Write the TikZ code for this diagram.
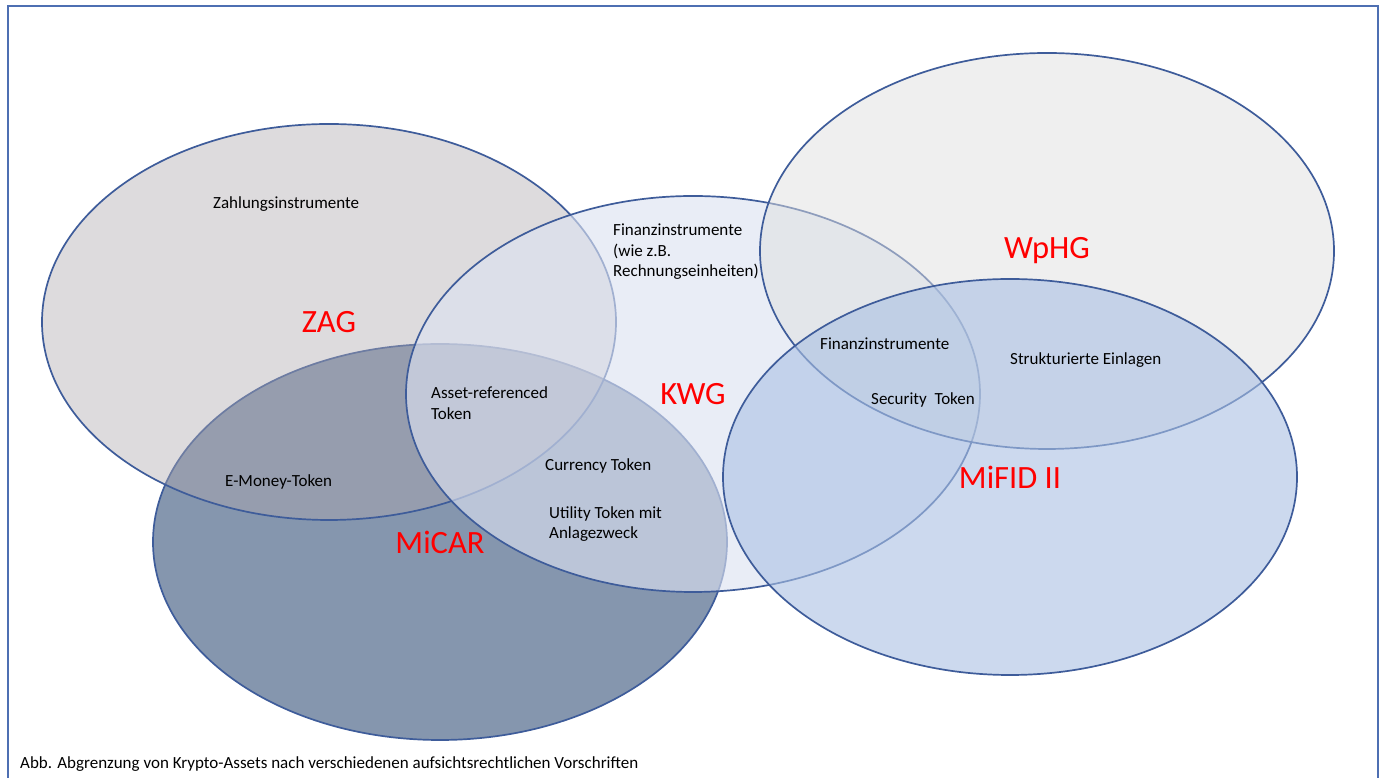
\documentclass[tikz,border=0pt]{standalone}
\usepackage{fontspec}
\setmainfont{Carlito}
\usetikzlibrary{shapes.geometric}

\definecolor{framec}{HTML}{4E6FB2}
\definecolor{linec}{HTML}{3E5C9A}
\definecolor{zagc}{RGB}{175,169,174}
\definecolor{micarc}{HTML}{8596AE}
\definecolor{kwgc}{RGB}{220,226,241}
\definecolor{wphgc}{RGB}{223,223,223}
\definecolor{mifidc}{RGB}{170,192,227}

\begin{document}
\begin{tikzpicture}[x=1pt,y=1pt]
    \tikzset{
        lawset/.style={
            ellipse,draw=linec,line width=1.7pt,
            minimum width=574pt,minimum height=396pt,
            inner sep=0pt,outer sep=0pt
        },
        lawname/.style={
            text=red,font=\fontsize{32.5}{36}\selectfont
        },
        tokentext/.style={
            anchor=west,inner sep=0pt,align=left,
            font=\fontsize{17}{20.5}\selectfont
        }
    }

    \useasboundingbox (0,0) rectangle (1381,778);
    \draw[framec,line width=2pt] (8,-20) rectangle (1378,772);

    \node[lawset,fill=micarc] (micar) at (440,236) {};
    \node[lawset,fill=zagc,fill opacity=0.42] (zag) at (329,456) {};
    \node[lawset,fill=kwgc,fill opacity=0.63] (kwg) at (693,384) {};
    \node[lawset,fill=wphgc,fill opacity=0.5] (wphg) at (1047,527) {};
    \node[lawset,fill=mifidc,fill opacity=0.6] (mifid) at (1010,301) {};

    \node[lawname] (zagname) at (zag) {ZAG};
    \node[lawname] (micarname) at (micar) {MiCAR};
    \node[lawname] (kwgname) at (kwg) {KWG};
    \node[lawname] (wphgname) at (wphg) {WpHG};
    \node[lawname] (mifidname) at (mifid) {MiFID II};

    \node[tokentext] (zahlung) at ([xshift=-116pt,yshift=118pt] zag.center) {Zahlungsinstrumente};
    \node[tokentext] (kwgfin) at ([xshift=-80pt,yshift=142pt] kwg.center) {Finanzinstrumente\\(wie z.B.\\Rechnungseinheiten)};
    \node[tokentext] (asset) at ([xshift=-262pt,yshift=-9pt] kwg.center) {Asset-referenced\\Token};
    \node[tokentext] (currency) at ([xshift=-148pt,yshift=-72pt] kwg.center) {Currency Token};
    \node[tokentext] (utility) at ([xshift=-144pt,yshift=-130pt] kwg.center) {Utility Token mit\\Anlagezweck};
    \node[tokentext] (emoney) at ([xshift=-215pt,yshift=60pt] micar.center) {E-Money-Token};
    \node[tokentext] (wphgfin) at ([xshift=-227pt,yshift=-93pt] wphg.center) {Finanzinstrumente};
    \node[tokentext] (einlagen) at ([xshift=-37pt,yshift=-109pt] wphg.center) {Strukturierte Einlagen};
    \node[tokentext] (security) at ([xshift=-139pt,yshift=77pt] mifid.center) {Security\ \ Token};

    \node[tokentext] (caption) at (20,14) {Abb. Abgrenzung von Krypto-Assets nach verschiedenen aufsichtsrechtlichen Vorschriften};
\end{tikzpicture}
\end{document}
